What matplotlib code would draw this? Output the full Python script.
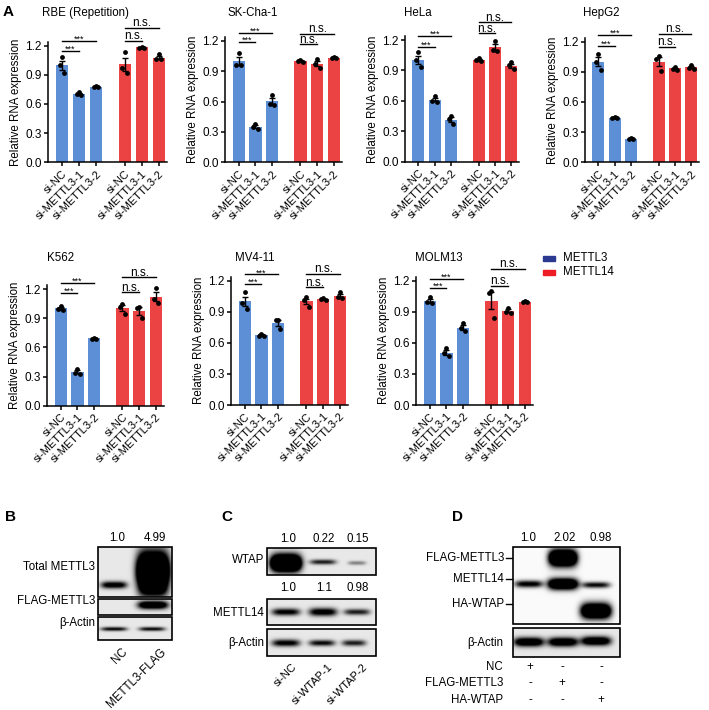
import numpy as np
import matplotlib.pyplot as plt
from matplotlib.patches import Rectangle

plt.rcParams['font.family'] = ['Liberation Sans', 'DejaVu Sans']
plt.rcParams['font.size'] = 8

W, H = 709, 710

# ---------------- panel A data (three replicates per bar) ----------------
conditions = ["si-NC", "si-METTL3-1", "si-METTL3-2"]

rbe_m3 = [[1.08, 1.00, 0.92], [0.72, 0.70, 0.69], [0.78, 0.77, 0.77]]
rbe_m14 = [[1.13, 0.97, 0.92], [1.19, 1.18, 1.18], [1.11, 1.06, 1.06]]
skcha_m3 = [[1.08, 0.96, 0.96], [0.38, 0.35, 0.33], [0.66, 0.58, 0.57]]
skcha_m14 = [[1.01, 1.00, 0.99], [1.02, 0.97, 0.93], [1.04, 1.03, 1.03]]
hela_m3 = [[1.08, 1.00, 0.93], [0.65, 0.60, 0.59], [0.45, 0.42, 0.37]]
hela_m14 = [[1.02, 1.00, 0.99], [1.19, 1.10, 1.09], [0.98, 0.95, 0.91]]
hepg2_m3 = [[1.08, 1.00, 0.92], [0.45, 0.44, 0.44], [0.24, 0.23, 0.23]]
hepg2_m14 = [[1.06, 1.03, 0.91], [0.95, 0.93, 0.92], [0.97, 0.94, 0.93]]
k562_m3 = [[1.03, 1.00, 0.98], [0.38, 0.34, 0.33], [0.70, 0.69, 0.69]]
k562_m14 = [[1.05, 1.02, 0.94], [1.02, 1.01, 0.90], [1.21, 1.10, 1.06]]
mv411_m3 = [[1.09, 0.98, 0.93], [0.69, 0.67, 0.67], [0.82, 0.82, 0.73]]
mv411_m14 = [[1.04, 1.01, 0.95], [1.03, 1.02, 1.01], [1.09, 1.04, 1.03]]
molm13_m3 = [[1.04, 0.99, 0.98], [0.55, 0.50, 0.47], [0.79, 0.74, 0.71]]
molm13_m14 = [[1.10, 1.08, 0.84], [0.94, 0.90, 0.89], [1.00, 0.99, 0.99]]

# ---------------- blot quantification labels ----------------
b_lanes = ["NC", "METTL3-FLAG"]
b_quant = ["1.0", "4.99"]
c_lanes = ["si-NC", "si-WTAP-1", "si-WTAP-2"]
c_wtap_quant = ["1.0", "0.22", "0.15"]
c_m14_quant = ["1.0", "1.1", "0.98"]
d_quant = ["1.0", "2.02", "0.98"]
d_rows = ["NC", "FLAG-METTL3", "HA-WTAP"]
d_signs = [["+", "-", "-"], ["-", "+", "-"], ["-", "-", "+"]]

BLUE = "#5C8FD6"
RED = "#EB4244"

fig = plt.figure(figsize=(W / 100, H / 100), dpi=100)
ov = fig.add_axes([0, 0, 1, 1])
ov.set_xlim(0, W)
ov.set_ylim(H, 0)
ov.set_autoscale_on(False)
ov.axis('off')

xpos = np.array([0, 1, 2, 3.7, 4.7, 5.7])


def bar_panel(left, zero, scale, sp, title, tx, ty, m3, m14, sig):
    xl = (-0.82, 6.2)
    top = 1.24
    ax = fig.add_axes([left / W, 1 - zero / H, (xl[1] - xl[0]) * sp / W, top * scale / H])
    reps = np.array(m3 + m14)
    means = reps.mean(axis=1)
    sem = reps.std(axis=1, ddof=1) / np.sqrt(3)
    cols = [BLUE] * 3 + [RED] * 3
    ax.bar(xpos, means, width=0.74, color=cols, zorder=1)
    ax.errorbar(xpos, means, yerr=sem, fmt='none', ecolor='black', elinewidth=1,
                capsize=2.5, capthick=1, zorder=2)
    offs = np.array([0.0, -0.14, 0.14])
    for x, r in zip(xpos, reps):
        ax.scatter(x + offs, r, s=12, color='black', zorder=3, linewidths=0)
    ax.set_xlim(*xl)
    ax.set_ylim(0, top)
    ax.set_yticks([0, 0.3, 0.6, 0.9, 1.2])
    ax.set_yticklabels(["0.0", "0.3", "0.6", "0.9", "1.2"], fontsize=8.5)
    ax.set_xticks(xpos)
    ax.set_xticklabels(conditions * 2, rotation=45, ha='right', rotation_mode='anchor')
    ax.set_ylabel("Relative RNA expression", labelpad=2, fontsize=8.3)
    for s in ['top', 'right']:
        ax.spines[s].set_visible(False)
    for s in ['left', 'bottom']:
        ax.spines[s].set_linewidth(1.1)
    ax.tick_params(width=1.1, length=3, pad=1.5)
    # significance lines
    pairs = [(0, 1, "***"), (0, 2, "***"), (3, 4, "n.s."), (3, 5, "n.s.")]
    for (i, j, lab), yv in zip(pairs, sig):
        ax.plot([xpos[i], xpos[j]], [yv, yv], color='black', lw=1, clip_on=False)
        if lab == "***":
            ax.text((xpos[i] + xpos[j]) / 2, yv - 0.008, lab, ha='center',
                    va='baseline', fontsize=6.5, clip_on=False)
        else:
            ax.text((xpos[i] + xpos[j]) / 2, yv + 0.015, lab, ha='center',
                    va='baseline', fontsize=8.5, clip_on=False)
    ov.text(tx, ty, title, fontsize=8.3, ha='left', va='center')
    return ax


bar_panel(48, 162.3, 97.2, 17.0, "RBE (Repetition)", 42, 13, rbe_m3, rbe_m14,
          [1.15, 1.25, 1.25, 1.385])
bar_panel(225, 162.3, 101.3, 16.7, "SK-Cha-1", 227, 13, skcha_m3, skcha_m14,
          [1.19, 1.28, 1.165, 1.27])
bar_panel(405, 161.7, 101.4, 16.3, "HeLa", 404, 13, hela_m3, hela_m14,
          [1.135, 1.24, 1.266, 1.375])
bar_panel(585, 162.3, 100.5, 16.3, "HepG2", 583, 13, hepg2_m3, hepg2_m14,
          [1.16, 1.27, 1.15, 1.28])
bar_panel(47, 405.7, 97.2, 16.7, "K562", 47, 258, k562_m3, k562_m14,
          [1.155, 1.265, 1.17, 1.32])
bar_panel(231, 405, 103.6, 16.7, "MV4-11", 235, 258, mv411_m3, mv411_m14,
          [1.165, 1.26, 1.136, 1.265])
bar_panel(416, 405, 103.6, 16.7, "MOLM13", 415, 258, molm13_m3, molm13_m14,
          [1.13, 1.22, 1.15, 1.316])

# legend
for yy, c, lab in [(258, "#2B3990", "METTL3"), (272, "#EE1C25", "METTL14")]:
    ov.add_patch(Rectangle((543, yy - 2.5), 12, 5, color=c))
    ov.text(563, yy, lab, fontsize=8.3, va='center', ha='left')

# panel letters
for lx, ly, L in [(3, 12, "A"), (5, 517, "B"), (221, 517, "C"), (452, 517, "D")]:
    ov.text(lx, ly, L, fontsize=11, fontweight='bold', va='center', ha='left')


def blot(x0, y0, x1, y1, bands, bg=0.91, res=4):
    nx = int((x1 - x0) * res)
    ny = int((y1 - y0) * res)
    xs = x0 + (np.arange(nx) + 0.5) / res
    ys = y0 + (np.arange(ny) + 0.5) / res
    X, Y = np.meshgrid(xs, ys)
    dark = np.zeros_like(X)
    for cx, cy, w, h, d in bands:
        dark += d * np.exp(-np.abs((X - cx) / (w / 2)) ** 4) * np.exp(-((Y - cy) / (h / 2)) ** 2)
    img = bg * (1 - np.clip(dark, 0, 1))
    ov.imshow(img, extent=(x0, x1, y1, y0), cmap='gray', vmin=0, vmax=1,
              interpolation='bilinear', aspect='auto', zorder=1)
    ov.add_patch(Rectangle((x0, y0), x1 - x0, y1 - y0, fill=False, lw=1.2,
                           ec='black', zorder=3))


# ---------------- panel B ----------------
blot(98, 547, 172, 597, [(114, 585, 26, 7, 1.2), (153, 571, 32, 36, 3.0),
                         (153, 590, 28, 14, 0.6)])
blot(98, 599, 172, 615, [(153, 605, 30, 8, 1.6)])
blot(98, 617, 172, 640, [(114, 629, 26, 4, 1.0), (152, 629, 26, 4, 1.0)])
for x, q in zip([117, 155], b_quant):
    ov.text(x, 538, q, ha='center', va='center', fontsize=8.3)
for y, lab in [(567, "Total METTL3"), (601, "FLAG-METTL3"), (623, "β-Actin")]:
    ov.text(95, y, lab, ha='right', va='center', fontsize=8.3)
for x, lab in zip([121, 160], b_lanes):
    ov.text(x, 646, lab, ha='right', va='top', rotation=45, rotation_mode='anchor',
            fontsize=8.3)

# ---------------- panel C ----------------
blot(267, 548, 376, 575, [(286, 563, 30, 16, 3.0), (323, 562, 26, 5, 0.9),
                          (357, 563, 18, 4, 0.45)])
blot(267, 599, 376, 625, [(286, 612, 28, 7, 1.1), (323, 612, 28, 8, 1.2),
                          (357, 612, 26, 6, 0.9)])
blot(267, 629, 376, 656, [(286, 643, 28, 7, 1.1), (322, 643, 26, 6, 1.0),
                          (354, 643, 24, 6, 0.9)])
for x, q1, q2 in zip([288, 324, 358], c_wtap_quant, c_m14_quant):
    ov.text(x, 538.7, q1, ha='center', va='center', fontsize=8.3)
    ov.text(x, 588, q2, ha='center', va='center', fontsize=8.3)
for y, lab in [(560, "WTAP"), (612.7, "METTL14"), (642.7, "β-Actin")]:
    ov.text(264, y, lab, ha='right', va='center', fontsize=8.3)
for x, lab in zip([292, 327, 362], c_lanes):
    ov.text(x, 662, lab, ha='right', va='top', rotation=45, rotation_mode='anchor',
            fontsize=8)

# ---------------- panel D ----------------
blot(513, 547, 620, 624, [(563, 558, 28, 16, 2.5), (529, 584, 28, 7, 1.1),
                          (563, 584, 30, 11, 2.0), (596, 585, 28, 6, 1.0),
                          (596, 611, 30, 15, 2.2)], bg=0.98)
blot(513, 628, 620, 657, [(529, 642, 30, 9, 1.5), (563, 642, 30, 9, 1.5),
                          (596, 641, 30, 9, 1.5)])
for x, q in zip([528, 565, 601], d_quant):
    ov.text(x, 538, q, ha='center', va='center', fontsize=8.3)
for y, lab in [(558, "FLAG-METTL3"), (579, "METTL14"), (604, "HA-WTAP")]:
    ov.text(504, y, lab, ha='right', va='center', fontsize=8.3)
    ov.plot([506, 512], [y, y], color='black', lw=1)
ov.text(503, 643, "β-Actin", ha='right', va='center', fontsize=8.3)
for y, lab, signs in zip([666.7, 683.3, 700], d_rows, d_signs):
    ov.text(503, y, lab, ha='right', va='center', fontsize=8.3)
    for x, s in zip([530, 562, 601], signs):
        ov.text(x, y, s, ha='center', va='center', fontsize=8.3)

fig.savefig("out.png", dpi=100)
